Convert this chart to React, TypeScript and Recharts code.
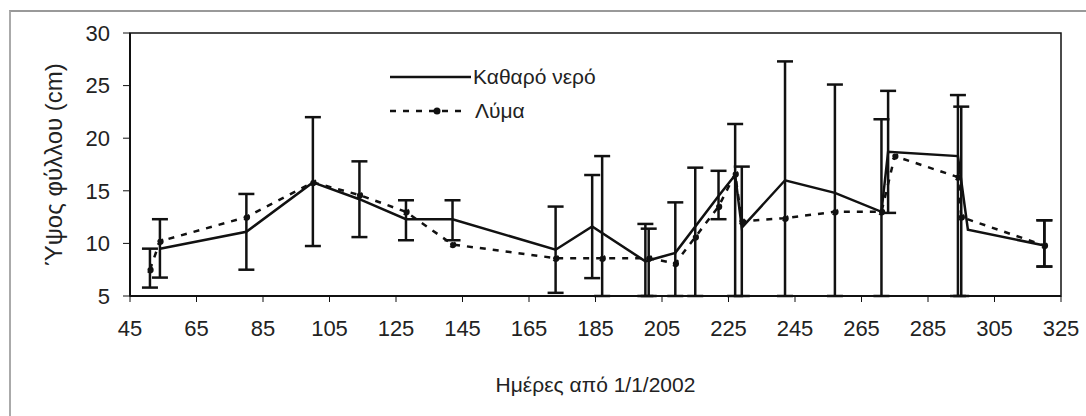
import { LineChart, Line, XAxis, YAxis, ErrorBar, ReferenceArea, Legend } from 'recharts';

// days since 1/1/2002, leaf height (cm), error bar [down, up]
const waterDays = [54, 80, 100, 114, 128, 142, 173, 184, 200, 209, 222, 227, 229, 242, 257, 271, 273, 294, 297, 320];
const waterHeight = [9.5, 11.1, 15.8, 14.2, 12.3, 12.3, 9.4, 11.6, 8.3, 9.1, 14.5, 16.5, 11.5, 16.0, 14.8, 13.0, 18.7, 18.3, 11.3, 9.8];
const waterErr: ([number, number] | null)[] = [
  [2.75, 2.8], [3.6, 3.6], [6.05, 6.2], [3.6, 3.6], [2.0, 1.8], [2.0, 1.8], [4.1, 4.1], [4.9, 4.9],
  [3.3, 3.55], [4.1, 4.8], [2.2, 2.4], [11.5, 4.85], null, [11.0, 11.3], [9.8, 10.3], null, [5.8, 5.8],
  [13.3, 5.8], null, [2.0, 2.4],
];

const sludgeDays = [51, 54, 80, 100, 114, 128, 142, 173, 187, 201, 209, 215, 222, 227, 229, 242, 257, 271, 275, 294, 295, 320];
const sludgeHeight = [7.5, 10.2, 12.5, 15.8, 14.6, 13.0, 9.9, 8.6, 8.6, 8.6, 8.1, 10.6, 13.5, 16.6, 12.1, 12.4, 13.0, 13.0, 18.3, 16.3, 12.5, 9.8];
const sludgeErr: ([number, number] | null)[] = [
  [1.7, 2.0], null, null, null, null, null, null, null, [3.6, 9.7], [3.6, 2.8], null, [5.6, 6.6],
  null, null, [7.1, 5.2], null, null, [8.0, 8.8], null, null, [7.5, 10.5], [2.0, 2.4],
];

const xTicks = [45, 65, 85, 105, 125, 145, 165, 185, 205, 225, 245, 265, 285, 305, 325];
const yTicks = [5, 10, 15, 20, 25, 30];

const water = waterDays.map((d, i) => ({ day: d, height: waterHeight[i], err: waterErr[i] }));
const sludge = sludgeDays.map((d, i) => ({ day: d, height: sludgeHeight[i], err: sludgeErr[i] }));

const font = '"Liberation Sans", Arial, sans-serif';
const ink = '#111';

const renderLegend = () => (
  <svg width={260} height={64} style={{ fontFamily: font }}>
    <line x1={5} y1={13} x2={86} y2={13} stroke={ink} strokeWidth={2.5} />
    <text x={88} y={20} fontSize={21} fill="#222">Καθαρό νερό</text>
    <line x1={5} y1={47} x2={82} y2={47} stroke={ink} strokeWidth={2.5} strokeDasharray="6 7" />
    <circle cx={52} cy={47} r={3.5} fill={ink} />
    <text x={90} y={54} fontSize={21} fill="#222">Λύμα</text>
  </svg>
);

export default function App() {
  return (
    <div style={{ position: 'relative', width: 1086, height: 416, background: '#fff' }}>
      <style>{'body{margin:0}'}</style>
      <div
        style={{
          position: 'absolute', left: 9, top: 10, right: 0, bottom: 0,
          borderTop: '2px solid #999', borderLeft: '2px solid #aaa',
        }}
      />
      <LineChart
        width={1086}
        height={416}
        margin={{ top: 33, right: 25, left: 0, bottom: 0 }}
        style={{ fontFamily: font }}
      >
        <XAxis
          type="number"
          dataKey="day"
          domain={[45, 325]}
          ticks={xTicks}
          interval={0}
          height={120}
          tickSize={6}
          tickMargin={18}
          axisLine={{ stroke: ink, strokeWidth: 2 }}
          tickLine={{ stroke: ink }}
          tick={{ fill: '#222', fontSize: 22 }}
          label={{ value: 'Ημέρες από 1/1/2002', position: 'center', dy: 29, fill: '#222', fontSize: 21 }}
        />
        <YAxis
          type="number"
          domain={[5, 30]}
          ticks={yTicks}
          interval={0}
          width={130}
          tickSize={7}
          tickMargin={13}
          axisLine={{ stroke: ink, strokeWidth: 2 }}
          tickLine={{ stroke: ink }}
          tick={{ fill: '#222', fontSize: 22 }}
          label={{ value: 'Ύψος φύλλου (cm)', angle: -90, position: 'center', dx: -12, fill: '#222', fontSize: 24 }}
        />
        <ReferenceArea x1={45} x2={325} y1={5} y2={30} fill="none" stroke={ink} strokeWidth={1.5} />
        <Legend
          layout="horizontal"
          verticalAlign="middle"
          align="center"
          content={renderLegend}
          wrapperStyle={{ left: 385, top: 64, width: 260, height: 64 }}
        />
        <Line
          data={water}
          dataKey="height"
          name="Καθαρό νερό"
          stroke={ink}
          strokeWidth={2.5}
          dot={false}
          isAnimationActive={false}
        >
          <ErrorBar dataKey="err" direction="y" width={8} stroke={ink} strokeWidth={2.5} />
        </Line>
        <Line
          data={sludge}
          dataKey="height"
          name="Λύμα"
          stroke={ink}
          strokeWidth={2.5}
          strokeDasharray="6 7"
          dot={{ r: 2.5, fill: ink, stroke: ink }}
          isAnimationActive={false}
        >
          <ErrorBar dataKey="err" direction="y" width={8} stroke={ink} strokeWidth={2.5} />
        </Line>
      </LineChart>
    </div>
  );
}
